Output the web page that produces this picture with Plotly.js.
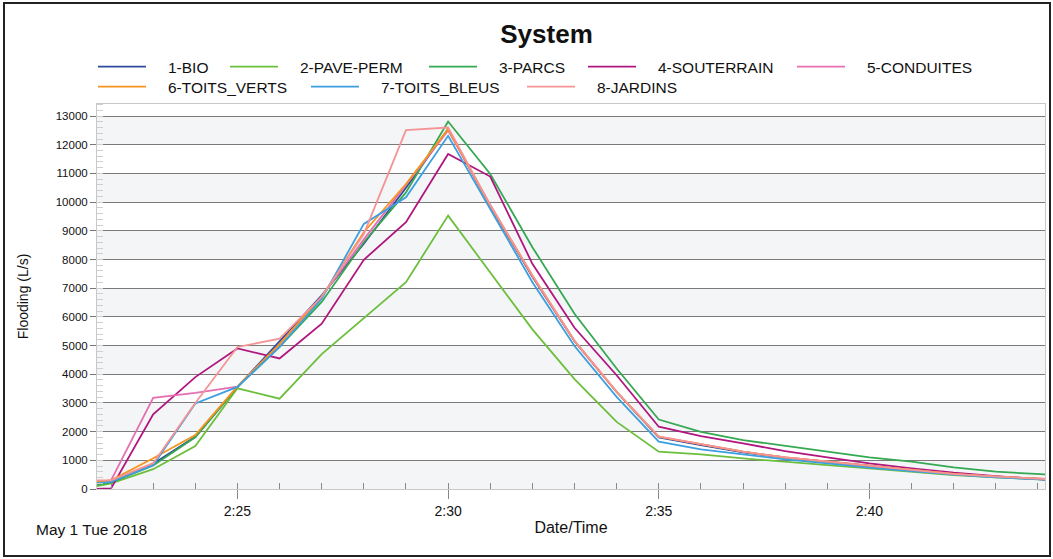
<!DOCTYPE html>
<html>
<head>
<meta charset="utf-8">
<script src="https://cdn.plot.ly/plotly-3.0.1.min.js"></script>
<style>
  html, body { margin: 0; padding: 0; background: #fff; }
  #wrap { position: relative; width: 1053px; height: 559px; }
  #chart { width: 1053px; height: 559px; }
  #frame { position: absolute; left: 3px; top: 2px; width: 1044px; height: 551px; border: 2px solid #222; pointer-events: none; }
</style>
</head>
<body>
<div id="wrap"><div id="chart"></div><div id="frame"></div></div>
<script>
// Time stamps (May 1 2018)
const times = ['2018-05-01 02:21:40','2018-05-01 02:22','2018-05-01 02:23','2018-05-01 02:24','2018-05-01 02:25',
  '2018-05-01 02:26','2018-05-01 02:27','2018-05-01 02:28','2018-05-01 02:29','2018-05-01 02:30',
  '2018-05-01 02:31','2018-05-01 02:32','2018-05-01 02:33','2018-05-01 02:34','2018-05-01 02:35',
  '2018-05-01 02:36','2018-05-01 02:37','2018-05-01 02:38','2018-05-01 02:39','2018-05-01 02:40',
  '2018-05-01 02:41','2018-05-01 02:42','2018-05-01 02:43','2018-05-01 02:44','2018-05-01 02:45'];

const bio        = [200, 250, 880, 1820, 3550, 5150, 6750, 8550, 10500, 12550, 9850, 7400, 5150, 3380, 1800, 1530, 1280, 1090, 940, 790, 650, 515, 425, 350, 280];
const pavePerm   = [100, 200, 690, 1500, 3510, 3150, 4700, 5940, 7210, 9530, 7560, 5565, 3830, 2340, 1300, 1206, 1067, 951, 858, 719, 603, 487, 406, 330, 270];
const parcs      = [150, 220, 820, 1800, 3560, 4950, 6520, 8600, 10340, 12810, 10980, 8430, 6110, 4200, 2420, 1994, 1704, 1496, 1299, 1101, 951, 754, 603, 510, 440];
const souterrain = [0, 20, 2600, 3900, 4900, 4550, 5760, 7990, 9300, 11680, 10890, 7850, 5620, 3965, 2170, 1843, 1588, 1322, 1101, 893, 719, 568, 452, 336, 240];
const conduites  = [250, 300, 3180, 3350, 3570, 5050, 6700, 8700, 10600, 12500, 9900, 7420, 5160, 3390, 1820, 1554, 1299, 1101, 951, 800, 661, 522, 429, 359, 290];
const toitsVerts = [250, 300, 1070, 1880, 3580, 5050, 6700, 8950, 10630, 12545, 9880, 7440, 5160, 3385, 1820, 1554, 1299, 1101, 951, 800, 661, 522, 429, 359, 290];
const toitsBleus = [200, 250, 830, 2980, 3560, 4950, 6630, 9240, 10170, 12310, 9760, 7210, 4985, 3210, 1650, 1380, 1206, 1032, 893, 742, 626, 499, 406, 330, 270];
const jardins    = [300, 300, 900, 3000, 4950, 5240, 6700, 8890, 12510, 12600, 9900, 7450, 5170, 3390, 1830, 1560, 1300, 1100, 950, 800, 660, 520, 430, 360, 290];

const seriesNames = ['1-BIO','2-PAVE-PERM','3-PARCS','4-SOUTERRAIN','5-CONDUITES','6-TOITS_VERTS','7-TOITS_BLEUS','8-JARDINS'];
const seriesData = [bio, pavePerm, parcs, souterrain, conduites, toitsVerts, toitsBleus, jardins];
const seriesColors = ['#2e4a9e','#6cbf3c','#35a852','#b0167f','#e56fb2','#f7941d','#3b9fe0','#f59494'];

// band / gridline values
const bandStarts = [0, 2000, 4000, 6000, 8000, 10000, 12000];

// legend layout (pixel positions of each entry, container coords)
const legendPos = [[99,67],[231,67],[430,67],[589,67],[798,67],[99,87],[312,87],[528,87]];
const W = 1053, H = 559;

const traces = seriesData.map((d, i) => ({
  x: times, y: d, type: 'scatter', mode: 'lines', name: seriesNames[i],
  line: { color: seriesColors[i], width: 1.8 },
  legend: i === 0 ? 'legend' : 'legend' + (i + 1)
}));

const layout = {
  width: W, height: H,
  margin: { l: 97, r: 8, t: 103, b: 70 },
  paper_bgcolor: '#ffffff', plot_bgcolor: '#ffffff',
  font: { family: 'Liberation Sans, Arial, sans-serif', color: '#111' },
  title: { text: '<b>System</b>', x: 0.519, xanchor: 'center', y: 0.94, yanchor: 'middle',
           font: { size: 26, color: '#111', family: 'Liberation Sans, Arial, sans-serif' } },
  xaxis: {
    type: 'date',
    range: ['2018-05-01 02:21:40', '2018-05-01 02:44:10'],
    tickformat: '%-H:%M', dtick: 300000, tick0: '2018-05-01 02:25',
    ticks: 'outside', ticklen: 9, tickcolor: '#888', tickwidth: 1,
    minor: { dtick: 60000, ticks: 'inside', ticklen: 6, tickcolor: '#888', showgrid: false },
    showgrid: false, zeroline: false,
    showline: true, linecolor: '#c8c8c8', linewidth: 1, mirror: true,
    tickfont: { size: 14, color: '#111' },
    title: { text: 'Date/Time', font: { size: 16, color: '#111' }, standoff: 4 }
  },
  yaxis: {
    range: [0, 13420],
    dtick: 1000, tick0: 0, tickformat: 'd',
    ticks: 'outside', ticklen: 6, tickcolor: '#777',
    minor: { dtick: 200, ticks: 'inside', ticklen: 6, tickcolor: '#cfcfcf', showgrid: false },
    showgrid: true, gridcolor: '#7a7a7a', gridwidth: 1,
    zeroline: false,
    showline: true, linecolor: '#c8c8c8', linewidth: 1, mirror: true,
    tickfont: { size: 11.5, color: '#111' },
    title: { text: 'Flooding (L/s)', font: { size: 14, color: '#111' }, standoff: 23 }
  },
  shapes: bandStarts.map(v => ({
    type: 'rect', xref: 'paper', yref: 'y', x0: 0, x1: 1, y0: v, y1: v + 1000,
    fillcolor: '#f4f5f7', line: { width: 0 }, layer: 'below'
  })),
  annotations: [{
    text: 'May 1 Tue 2018', xref: 'paper', yref: 'paper', x: -0.066, y: -0.105,
    xanchor: 'left', yanchor: 'middle', showarrow: false,
    font: { size: 15.5, color: '#111' }
  }],
  showlegend: true
};

legendPos.forEach((p, i) => {
  const key = i === 0 ? 'legend' : 'legend' + (i + 1);
  layout[key] = {
    x: (p[0] - 6) / W, y: 1 - p[1] / H, xref: 'container', yref: 'container',
    xanchor: 'left', yanchor: 'middle', orientation: 'h',
    bgcolor: 'rgba(0,0,0,0)', borderwidth: 0,
    itemwidth: 65,
    font: { size: 15.5, color: '#111' }
  };
});

Plotly.newPlot('chart', traces, layout, { displayModeBar: false, staticPlot: true }).then(gd => {
  // lengthen legend line samples to match the original legend style
  gd.querySelectorAll('.legendlines path').forEach(p => p.setAttribute('d', 'M5,0h48'));
});
</script>
</body>
</html>
